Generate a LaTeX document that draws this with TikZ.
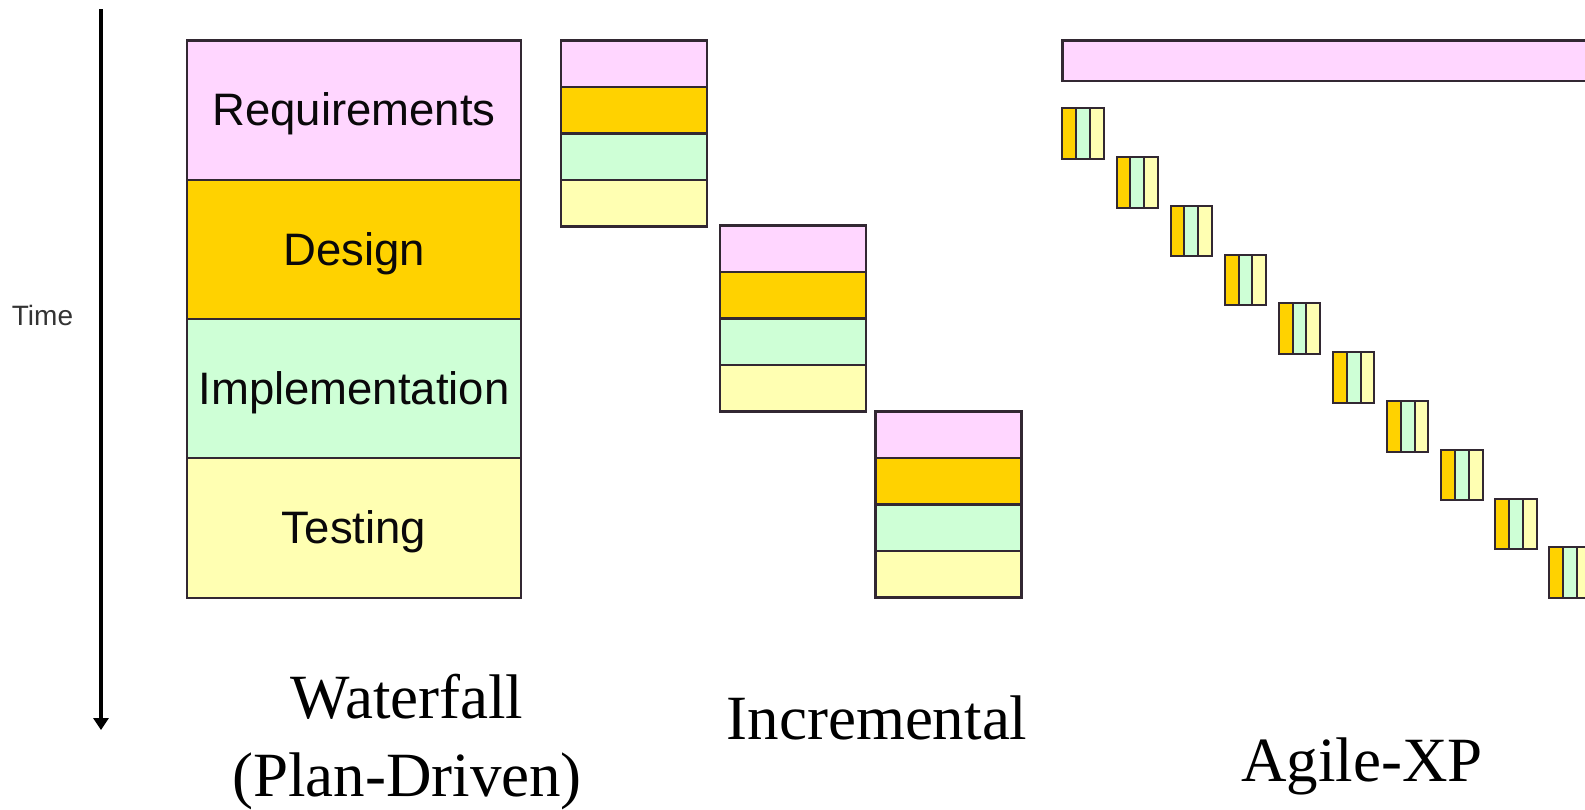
\documentclass[tikz,border=0pt]{standalone}
\usepackage{fontspec}
\setmainfont{Liberation Serif}
\newfontfamily\arialf{Liberation Sans}
\usetikzlibrary{arrows.meta}
\definecolor{cpink}{RGB}{255,214,255}
\definecolor{cgold}{RGB}{255,210,0}
\definecolor{cgreen}{RGB}{206,255,214}
\definecolor{cyellow}{RGB}{255,255,178}
\definecolor{cline}{RGB}{50,40,50}
\begin{document}
\begin{tikzpicture}[x=1pt,y=-1pt,
  cell/.style={rectangle,draw=cline,line width=2.2pt,anchor=north west,inner sep=0pt,outer sep=0pt},
  wcell/.style={cell,minimum width=334pt,minimum height=139.3pt},
  wtext/.style={font=\arialf\fontsize{45.5}{50}\selectfont,text=black!80!cline,inner sep=0pt},
  icell/.style={cell,minimum width=146pt,minimum height=46.5pt},
  scell/.style={cell,line width=2pt,minimum width=13.8pt,minimum height=50.5pt},
  caption/.style={font=\fontsize{63}{70}\selectfont,inner sep=0pt}]
\useasboundingbox (0,0) rectangle (1585,809);
\clip (0,0) rectangle (1585,809);
\fill[white] (0,0) rectangle (1585,809);

% time arrow
\coordinate (t0) at (101,9);
\coordinate (t1) at (101,730);
\draw[line width=3.8pt,-{Triangle[width=15pt,length=12pt]}] (t0) -- (t1);
\node[font=\arialf\fontsize{28}{30}\selectfont,text=black!80] (time) at (42.5,315) {Time};

% waterfall
\node[wcell,fill=cpink]   (wreq)  at (187,40.4)  {};
\node[wcell,fill=cgold]   (wdes)  at (187,179.7) {};
\node[wcell,fill=cgreen]  (wimp)  at (187,319)   {};
\node[wcell,fill=cyellow] (wtest) at (187,458.3) {};
\node[wtext] at ([yshift=-4pt]wreq.center)  {Requirements};
\node[wtext] at ([yshift=-4pt]wdes.center)  {Design};
\node[wtext] at ([yshift=-4pt]wimp.center)  {Implementation};
\node[wtext] at ([yshift=-4pt]wtest.center) {Testing};

% incremental
\foreach \k/\x/\y in {1/561/40.4, 2/719.7/225.4, 3/875.4/411.4}{
  \node[icell,fill=cpink]   (i\k a) at (\x,\y) {};
  \node[icell,fill=cgold]   (i\k b) at (\x,\y+46.5) {};
  \node[icell,fill=cgreen]  (i\k c) at (\x,\y+93) {};
  \node[icell,fill=cyellow] (i\k d) at (\x,\y+139.5) {};
}

% agile
\node[cell,fill=cpink,minimum width=560pt,minimum height=40.5pt] (abar) at (1062.4,40.4) {};
\foreach \k in {0,...,9}{
  \pgfmathsetmacro{\ax}{1062.4+54.1*\k}
  \pgfmathsetmacro{\ay}{108.2+48.8*\k}
  \node[scell,fill=cgold]   (s\k a) at (\ax,\ay) {};
  \node[scell,fill=cgreen]  (s\k b) at (\ax+13.8,\ay) {};
  \node[scell,fill=cyellow] (s\k c) at (\ax+27.6,\ay) {};
}

% captions
\node[caption] (capw)  at (407,697) {Waterfall};
\node[caption] (capw2) at (407,781) {(Plan-Driven)};
\node[caption] (capi)  at (877,718) {Incremental};
\node[caption] (capa)  at (1362,766) {Agile-XP};
\end{tikzpicture}
\end{document}
